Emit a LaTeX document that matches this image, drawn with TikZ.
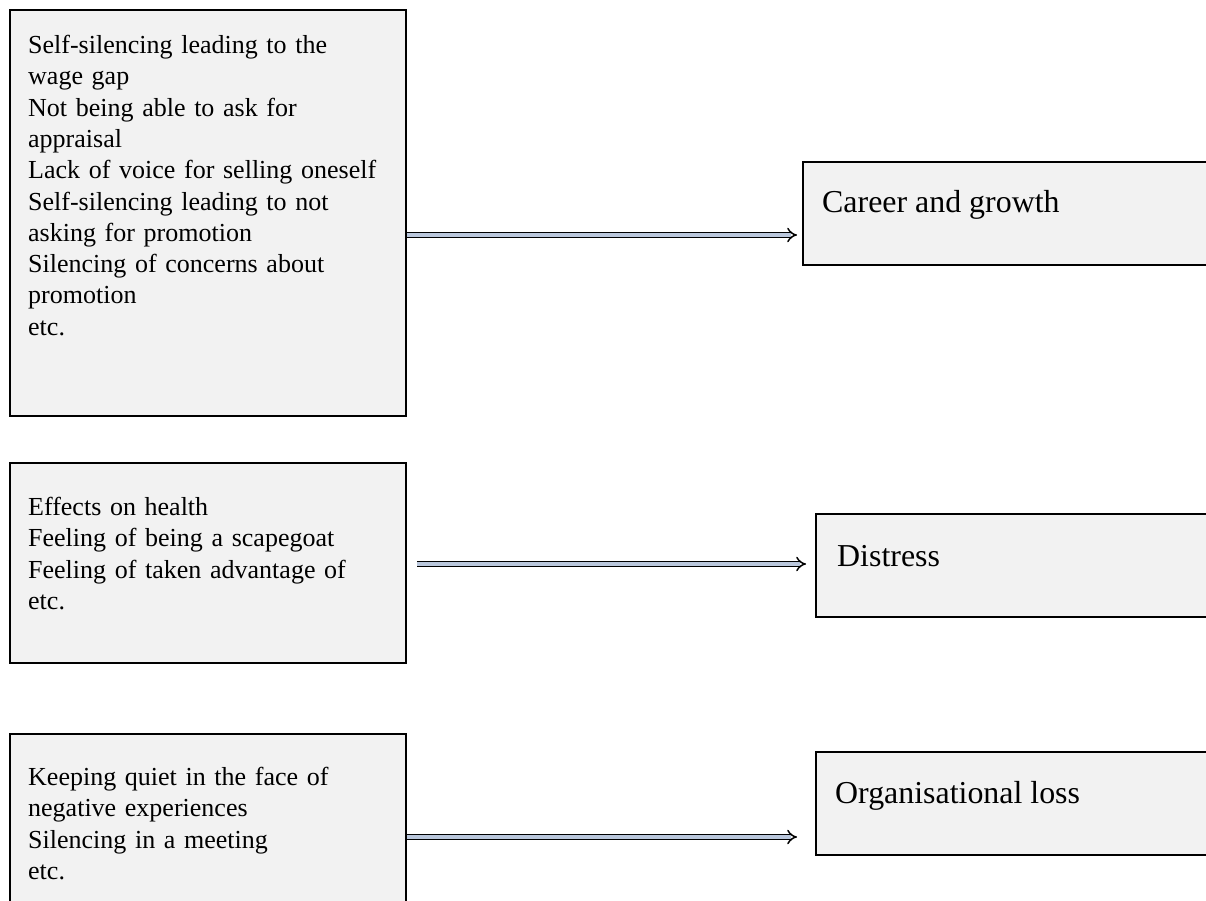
\documentclass[tikz,border=0pt]{standalone}
\usepackage{fontspec}
\setmainfont{Liberation Serif}
\usepackage{xcolor}
\usetikzlibrary{arrows.meta,calc}
\definecolor{boxgray}{RGB}{242,242,242}
\definecolor{arrowblue}{RGB}{186,199,220}
\tikzset{
    causebox/.style={draw,line width=1.8pt,fill=boxgray,anchor=north west,
        minimum width=396pt,inner sep=0pt},
    effectbox/.style={draw,line width=1.8pt,fill=boxgray,anchor=north west,
        minimum width=430pt,minimum height=103pt,inner sep=0pt},
    causetext/.style={anchor=north west,inner sep=0pt,align=left,text width=370pt,
        font=\fontsize{26}{31.3}\selectfont},
    effecttext/.style={anchor=base west,inner sep=0pt,
        font=\fontsize{31.9}{36}\selectfont},
    link/.style={draw=black,line width=1.5pt,double=arrowblue,double distance=3.4pt,
        -{Implies[length=3pt]}}
}
\begin{document}
\begin{tikzpicture}[x=1pt,y=-1pt]
  \useasboundingbox (0,0) rectangle (1206,901);
  \clip (0,0) rectangle (1206,901);
  % left column: silencing experiences
  \node[causebox,minimum height=406pt] (careerCause) at (9,9) {};
  \node[causebox,minimum height=200pt] (distressCause) at (9,462) {};
  \node[causebox,minimum height=217pt] (lossCause) at (9,733) {};
  \node[causetext] (careerList) at (28,35)
    {Self-silencing leading to the\\wage gap\\Not being able to ask for\\appraisal\\
     Lack of voice for selling oneself\\Self-silencing leading to not\\
     asking for promotion\\Silencing of concerns about\\promotion\\etc.};
  \node[causetext] (distressList) at (28,497)
    {Effects on health\\Feeling of being a scapegoat\\Feeling of taken advantage of\\etc.};
  \node[causetext] (lossList) at (28,767)
    {Keeping quiet in the face of\\negative experiences\\Silencing in a meeting\\etc.};
  % right column: outcomes
  \node[effectbox] (career) at (802,161) {};
  \node[effectbox] (distress) at (815,513) {};
  \node[effectbox] (loss) at (815,751) {};
  \node[effecttext] (careerLabel) at (822,213) {Career and growth};
  \node[effecttext] (distressLabel) at (837,566) {Distress};
  \node[effecttext] (lossLabel) at (835,803) {Organisational loss};
  % arrows
  \draw[link] (careerCause.east |- 0,235) -- ([xshift=-5pt]career.west |- 0,235);
  \draw[link] ([xshift=10pt]distressCause.east |- 0,564) -- ([xshift=-9pt]distress.west |- 0,564);
  \draw[link] (lossCause.east |- 0,837) -- ([xshift=-18pt]loss.west |- 0,837);
\end{tikzpicture}
\end{document}
